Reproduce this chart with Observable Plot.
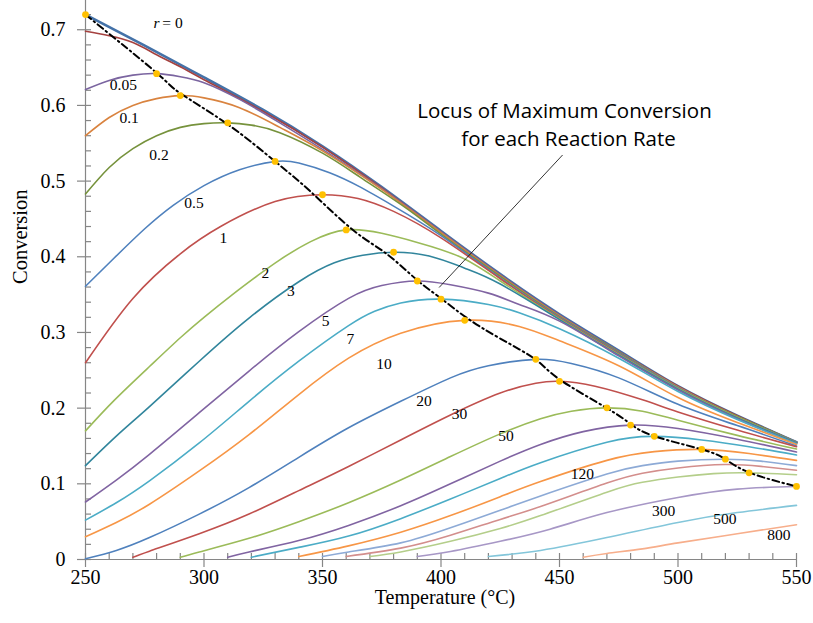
<!DOCTYPE html>
<html>
<head>
<meta charset="utf-8">
<script src="https://cdn.jsdelivr.net/npm/d3@7"></script>
<script src="https://cdn.jsdelivr.net/npm/@observablehq/plot@0.6"></script>
<style>
  html, body { margin: 0; padding: 0; background: #fff; }
  #chart svg { display: block; }
</style>
</head>
<body>
<div id="chart"></div>
<script>
// Equilibrium-limited conversion vs. temperature, one curve per reaction rate r.
// Each curve is a list of [temperature °C, conversion] readings.

const rates  = ["0", "0.01", "0.05", "0.1", "0.2", "0.5", "1", "2", "3", "5", "7", "10",
                "20", "30", "50", "70", "100", "120", "150", "200", "250", "300", "500", "800"];
const colors = ["#4472A8", "#A5413F", "#7B65A0", "#D9833F", "#76923C", "#4F81BD", "#C0504D", "#9BBB59",
                "#31859C", "#8064A2", "#4BACC6", "#F79646", "#4F81BD", "#C0504D", "#9BBB59", "#8064A2",
                "#4BACC6", "#F79646", "#8DAAD6", "#D38E8C", "#B4CE8A", "#A797C6", "#83C6DA", "#F7AE8B"];

const r0    = [[250,0.720],[275,0.679],[300,0.637],[325,0.594],[350,0.546],[375,0.492],[400,0.434],[425,0.377],[450,0.324],[475,0.276],[500,0.229],[525,0.190],[550,0.155]];
const r0_01 = [[250,0.698],[260,0.692],[270,0.683],[280,0.667],[290,0.651],[300,0.634],[325,0.592],[350,0.545],[375,0.491],[400,0.433],[425,0.376],[450,0.323],[475,0.275],[500,0.229],[525,0.190],[550,0.155]];
const r0_05 = [[250,0.621],[260,0.633],[270,0.640],[280,0.642],[290,0.638],[300,0.630],[315,0.608],[332,0.577],[350,0.542],[375,0.490],[400,0.433],[425,0.376],[450,0.323],[475,0.275],[500,0.228],[525,0.189],[550,0.155]];
const r0_1  = [[250,0.560],[260,0.584],[270,0.600],[280,0.609],[290,0.613],[300,0.610],[315,0.597],[332,0.571],[350,0.540],[375,0.489],[400,0.432],[425,0.375],[450,0.322],[475,0.274],[500,0.228],[525,0.189],[550,0.155]];
const r0_2  = [[250,0.483],[260,0.518],[270,0.543],[280,0.560],[290,0.571],[300,0.576],[310,0.577],[320,0.574],[332,0.564],[350,0.537],[366,0.505],[385,0.465],[400,0.430],[425,0.374],[450,0.321],[475,0.274],[500,0.227],[525,0.189],[550,0.155]];
const r0_5  = [[250,0.361],[262,0.398],[275,0.437],[287,0.468],[300,0.494],[315,0.515],[330,0.526],[340,0.524],[353,0.511],[366,0.492],[380,0.467],[400,0.428],[425,0.372],[450,0.320],[475,0.273],[500,0.227],[525,0.188],[550,0.155]];
const r1    = [[250,0.260],[270,0.345],[290,0.404],[307,0.440],[330,0.473],[350,0.482],[365,0.477],[380,0.460],[400,0.425],[425,0.371],[450,0.319],[475,0.272],[500,0.226],[525,0.188],[550,0.154]];
const r2    = [[250,0.170],[262,0.210],[277,0.255],[290,0.293],[300,0.320],[312,0.350],[323,0.376],[332,0.396],[345,0.420],[360,0.4355],[375,0.431],[390,0.419],[408,0.400],[425,0.368],[450,0.318],[475,0.271],[500,0.226],[525,0.188],[550,0.154]];
const r3    = [[250,0.124],[263,0.163],[277,0.202],[298,0.262],[319,0.319],[340,0.367],[355,0.392],[367,0.402],[380,0.406],[395,0.401],[410,0.385],[425,0.364],[450,0.317],[475,0.270],[500,0.225],[525,0.187],[550,0.154]];
const r5    = [[250,0.076],[263,0.105],[277,0.139],[298,0.194],[319,0.249],[340,0.301],[361,0.345],[375,0.362],[390,0.368],[404,0.363],[420,0.352],[433,0.337],[450,0.315],[475,0.269],[500,0.224],[525,0.186],[550,0.153]];
const r7    = [[250,0.052],[263,0.075],[277,0.104],[298,0.154],[319,0.209],[340,0.262],[361,0.309],[372,0.328],[383,0.339],[400,0.344],[420,0.337],[433,0.326],[450,0.305],[475,0.266],[500,0.222],[525,0.185],[550,0.153]];
const r10   = [[250,0.030],[263,0.049],[277,0.073],[298,0.117],[319,0.165],[340,0.218],[361,0.266],[383,0.299],[410,0.316],[433,0.308],[450,0.289],[475,0.256],[500,0.214],[525,0.181],[550,0.152]];
const r20   = [[250,0.001],[263,0.012],[277,0.029],[298,0.060],[319,0.095],[340,0.135],[361,0.174],[383,0.209],[404,0.240],[420,0.256],[440,0.2645],[455,0.259],[475,0.240],[500,0.205],[525,0.177],[550,0.150]];
const r30   = [[270,0.003],[277,0.011],[298,0.034],[319,0.060],[340,0.091],[361,0.123],[383,0.158],[404,0.191],[425,0.220],[440,0.233],[450,0.2355],[465,0.229],[485,0.211],[500,0.195],[525,0.171],[550,0.149]];
const r50   = [[290,0.003],[298,0.010],[319,0.028],[340,0.050],[361,0.075],[383,0.105],[404,0.136],[425,0.166],[442,0.186],[455,0.196],[470,0.2004],[485,0.196],[500,0.184],[525,0.164],[550,0.146]];
const r70   = [[310,0.003],[319,0.010],[340,0.025],[361,0.045],[383,0.071],[404,0.100],[425,0.130],[442,0.152],[460,0.169],[480,0.1776],[500,0.173],[525,0.159],[550,0.142]];
const r100  = [[320,0.003],[340,0.016],[361,0.031],[383,0.054],[404,0.080],[425,0.107],[442,0.128],[470,0.155],[490,0.1627],[510,0.158],[530,0.149],[550,0.138]];
const r120  = [[340,0.004],[361,0.018],[383,0.036],[404,0.058],[425,0.083],[442,0.103],[470,0.131],[490,0.1425],[510,0.1455],[530,0.140],[550,0.131]];
const r150  = [[350,0.004],[361,0.010],[383,0.022],[404,0.042],[425,0.065],[442,0.084],[470,0.113],[485,0.124],[500,0.130],[520,0.1325],[535,0.130],[550,0.124]];
const r200  = [[360,0.004],[383,0.015],[404,0.032],[425,0.053],[442,0.070],[470,0.101],[485,0.114],[500,0.121],[520,0.1255],[535,0.123],[550,0.118]];
const r250  = [[370,0.004],[383,0.010],[404,0.024],[425,0.041],[442,0.058],[470,0.089],[485,0.102],[500,0.109],[515,0.1135],[530,0.1145],[550,0.112]];
const r300  = [[390,0.004],[404,0.0105],[425,0.024],[446,0.040],[470,0.062],[500,0.082],[525,0.093],[550,0.0965]];
const r500  = [[420,0.004],[442,0.012],[470,0.029],[500,0.049],[525,0.062],[550,0.0715]];
const r800  = [[460,0.003],[470,0.008],[485,0.014],[500,0.022],[525,0.034],[550,0.046]];

const curves = [r0, r0_01, r0_05, r0_1, r0_2, r0_5, r1, r2, r3, r5, r7, r10,
                r20, r30, r50, r70, r100, r120, r150, r200, r250, r300, r500, r800];

// Maximum conversion reached for each reaction rate
const maxTemp = [250, 280, 290, 310, 330, 350, 360, 380, 390, 400, 410, 440, 450, 470, 480, 490, 510, 520, 530, 550];
const maxConv = [0.720, 0.642, 0.613, 0.577, 0.526, 0.482, 0.4355, 0.406, 0.368, 0.344, 0.316, 0.2645, 0.2355, 0.2004, 0.1776, 0.1627, 0.1455, 0.1325, 0.1145, 0.0965];

// Smoothed locus through the maxima
const locusTemp = [250, 280, 290, 310, 330, 345, 363, 377, 390, 400, 411, 425, 440, 450, 470, 480, 490, 510, 520, 530, 550];
const locusConv = [0.720, 0.643, 0.616, 0.575, 0.526, 0.486, 0.435, 0.404, 0.369, 0.345, 0.319, 0.292, 0.264, 0.238, 0.200, 0.179, 0.163, 0.1455, 0.1325, 0.115, 0.0965];

// In-chart rate labels
const labelText = ["0.05", "0.1", "0.2", "0.5", "1", "2", "3", "5", "7", "10", "20", "30", "50", "120", "300", "500", "800"];
const labelTemp = [266.0, 268.4, 281.0, 295.8, 308.2, 325.9, 336.7, 351.3, 361.8, 376.0, 392.8, 407.8, 427.4, 459.7, 493.9, 519.8, 542.6];
const labelConv = [0.6263, 0.5834, 0.5345, 0.4704, 0.4248, 0.3779, 0.3548, 0.3151, 0.2907, 0.2577, 0.2088, 0.1916, 0.1625, 0.1123, 0.0634, 0.0529, 0.0324];

// Callout
const noteText = ["Locus of Maximum Conversion", "for each Reaction Rate"];
const noteTemp = [452.1, 453.8];
const noteConv = [0.5836, 0.547];
const leaderTemp = [451.3, 399.2];
const leaderConv = [0.5345, 0.3594];

// Axes
const xTicks = [250, 300, 350, 400, 450, 500, 550];
const xMinor = [260, 270, 280, 290, 310, 320, 330, 340, 360, 370, 380, 390, 410, 420, 430, 440, 460, 470, 480, 490, 510, 520, 530, 540];
const yTicks = [0, 0.1, 0.2, 0.3, 0.4, 0.5, 0.6, 0.7];
const yTickText = ["0", "0.1", "0.2", "0.3", "0.4", "0.5", "0.6", "0.7"];
const yMinor = [0.02, 0.04, 0.06, 0.08, 0.12, 0.14, 0.16, 0.18, 0.22, 0.24, 0.26, 0.28, 0.32, 0.34, 0.36, 0.38,
                0.42, 0.44, 0.46, 0.48, 0.52, 0.54, 0.56, 0.58, 0.62, 0.64, 0.66, 0.68, 0.72];

// ---- build tables ----
const rows = rates.flatMap((r, i) => curves[i].map(([T, C]) => ({r, T, C})));
const maxima = maxTemp.map((T, i) => ({T, C: maxConv[i]}));
const locus = locusTemp.map((T, i) => ({T, C: locusConv[i]}));
const labels = labelText.map((text, i) => ({text, T: labelTemp[i], C: labelConv[i]}));
const notes = noteText.map((text, i) => ({text, T: noteTemp[i], C: noteConv[i]}));

const W = 813, H = 623;
const mL = 85, mR = 17, mT = 2, mB = 64;
const frameW = W - mL - mR, frameH = H - mT - mB;
const axisGrey = "#868686";
const serif = "Liberation Serif, Times New Roman, serif";

const chart = Plot.plot({
  width: W,
  height: H,
  marginLeft: mL,
  marginRight: mR,
  marginTop: mT,
  marginBottom: mB,
  x: {domain: [250, 550], axis: null},
  y: {domain: [0, 0.736], axis: null},
  color: {domain: rates, range: colors},
  style: {background: "#fff", fontFamily: serif, overflow: "visible"},
  marks: [
    // axis lines
    Plot.ruleY([0], {stroke: axisGrey, strokeWidth: 1.2}),
    Plot.ruleX([250], {stroke: axisGrey, strokeWidth: 1.2, insetTop: -2}),
    // major ticks cross the axis, minor ticks point inward
    Plot.ruleX(xTicks, {x: d => d, stroke: axisGrey, strokeWidth: 1.2, insetTop: frameH - 6, insetBottom: -8}),
    Plot.ruleX(xMinor, {x: d => d, stroke: axisGrey, strokeWidth: 1.2, insetTop: frameH - 6}),
    Plot.ruleY(yTicks, {y: d => d, stroke: axisGrey, strokeWidth: 1.2, insetLeft: -8, insetRight: frameW - 6}),
    Plot.ruleY(yMinor, {y: d => d, stroke: axisGrey, strokeWidth: 1.2, insetRight: frameW - 6}),
    // tick labels
    Plot.text(xTicks, {x: d => d, frameAnchor: "bottom", dy: 24, text: d => String(d), fontSize: 20, fill: "#000"}),
    Plot.text(yTicks, {y: d => d, frameAnchor: "left", dx: -20, textAnchor: "end", text: (d, i) => yTickText[i], fontSize: 20, fill: "#000"}),
    // axis titles
    Plot.text(["Temperature (°C)"], {frameAnchor: "bottom", dy: 44, dx: 4, fontSize: 20, fill: "#000"}),
    Plot.text(["Conversion"], {frameAnchor: "left", dx: -65, dy: 3, rotate: -90, fontSize: 20.5, fill: "#000"}),

    // r = 0 (no kinetic limit), drawn heavier
    Plot.line(rows.filter(d => d.r === "0"), {x: "T", y: "C", stroke: "r", strokeWidth: 2.7, curve: "natural"}),
    // finite reaction rates
    Plot.line(rows.filter(d => d.r !== "0"), {x: "T", y: "C", z: "r", stroke: "r", strokeWidth: 1.6, curve: "natural"}),

    // locus of maxima
    Plot.line(locus, {x: "T", y: "C", stroke: "#000", strokeWidth: 2, strokeDasharray: "7,3.5,1.5,3.5", curve: "natural"}),
    Plot.dot(maxima, {x: "T", y: "C", r: 3.4, fill: "#FFC000", stroke: "none"}),

    // rate labels
    Plot.text(labels, {x: "T", y: "C", text: "text", fontSize: 15.5, fill: "#000"}),
    Plot.text(["r"], {x: () => 284.6, y: () => 0.7083, dx: -11, fontSize: 15.5, fontStyle: "italic", fill: "#000"}),
    Plot.text(["= 0"], {x: () => 284.6, y: () => 0.7083, dx: 5, fontSize: 15.5, fill: "#000"}),

    // callout
    Plot.link([0], {x1: () => leaderTemp[0], y1: () => leaderConv[0], x2: () => leaderTemp[1], y2: () => leaderConv[1], stroke: "#000", strokeWidth: 0.8}),
    Plot.text(notes, {x: "T", y: "C", text: "text", lineAnchor: "bottom", fontFamily: "Open Sans", fontSize: 20.5, fill: "#000"})
  ]
});

document.getElementById("chart").appendChild(chart);
</script>
</body>
</html>
